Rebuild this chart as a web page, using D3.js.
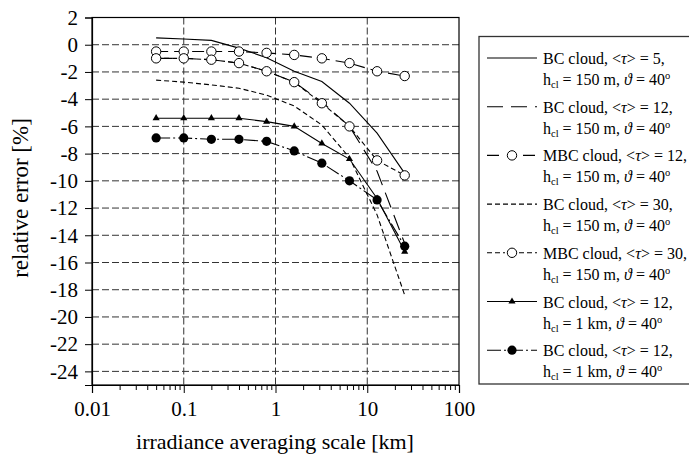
<!DOCTYPE html>
<html>
<head>
<meta charset="utf-8">
<script src="https://cdn.jsdelivr.net/npm/d3@7"></script>
<style>
  body { margin: 0; background: #fff; }
  svg { font-family: "Liberation Serif", "Times New Roman", serif; }
</style>
</head>
<body>
<div id="chart"></div>
<script>
// averaging scales (km) and relative errors (%)
const scales = [0.05, 0.1, 0.2, 0.4, 0.8, 1.6, 3.2, 6.4, 12.8, 25.6];
const bc5_150m   = [0.5, 0.42, 0.32, -0.25, -0.95, -1.95, -2.7, -4.3, -6.5, -9.45];
const bc12_150m  = [-1.0, -1.0, -1.1, -1.35, -1.95, -2.75, -4.2, -6.0, -9.3, -14.6];
const mbc12_150m = [-0.5, -0.5, -0.5, -0.5, -0.6, -0.75, -1.0, -1.35, -1.95, -2.3];
const bc30_150m  = [-2.6, -2.75, -2.95, -3.2, -3.7, -4.5, -5.9, -8.3, -12.5, -18.4];
const mbc30_150m = [-1.0, -1.0, -1.1, -1.35, -1.95, -2.75, -4.3, -6.0, -8.5, -9.6];
const bc12_1km_a = [-5.4, -5.4, -5.4, -5.4, -5.65, -6.0, -7.25, -8.4, -11.3, -15.2];
const bc12_1km_b = [-6.85, -6.85, -6.95, -6.95, -7.1, -7.8, -8.7, -10.0, -11.4, -14.8];

const yTicks = [2, 0, -2, -4, -6, -8, -10, -12, -14, -16, -18, -20, -22, -24];
const xTicks = [0.01, 0.1, 1, 10, 100];

const series = [
  {name: 'BC cloud, ', tau: '5', h: '150 m', values: bc5_150m, dash: null, marker: null},
  {name: 'BC cloud, ', tau: '12', h: '150 m', values: bc12_150m, dash: '16,8', marker: null},
  {name: 'MBC cloud, ', tau: '12', h: '150 m', values: mbc12_150m, dash: '12,6', marker: 'open'},
  {name: 'BC cloud, ', tau: '30', h: '150 m', values: bc30_150m, dash: '5,3', marker: null},
  {name: 'MBC cloud, ', tau: '30', h: '150 m', values: mbc30_150m, dash: '5,3', marker: 'open'},
  {name: 'BC cloud, ', tau: '12', h: '1 km', values: bc12_1km_a, dash: null, marker: 'triangle'},
  {name: 'BC cloud, ', tau: '12', h: '1 km', values: bc12_1km_b, dash: '14,3,2,3', marker: 'filled'}
];

let width = 689, height = 457;
let margin = {top: 17.5, bottom: 72, right: 230, left: 92};
const serif = '"Liberation Serif", "Times New Roman", serif';

let svg = d3.select('#chart')
            .append('svg')
            .attr('width', width)
            .attr('height', height)
            .style('background', '#fff');

let xScale = d3.scaleLog()
               .domain([0.01, 100])
               .range([margin.left, width - margin.right]);

let yScale = d3.scaleLinear()
               .domain([-25, 2])
               .range([height - margin.bottom, margin.top]);

// grid lines
svg.append('g')
   .selectAll('line')
   .data(yTicks.filter(d => d < 2))
   .enter()
   .append('line')
   .attr('x1', margin.left)
   .attr('x2', width - margin.right)
   .attr('y1', d => yScale(d))
   .attr('y2', d => yScale(d))
   .attr('stroke', '#333')
   .attr('stroke-width', 1)
   .attr('stroke-dasharray', '7,3');

svg.append('g')
   .selectAll('line')
   .data([0.1, 1, 10])
   .enter()
   .append('line')
   .attr('x1', d => xScale(d))
   .attr('x2', d => xScale(d))
   .attr('y1', margin.top)
   .attr('y2', height - margin.bottom)
   .attr('stroke', '#333')
   .attr('stroke-width', 1)
   .attr('stroke-dasharray', '7,3');

// frame
svg.append('rect')
   .attr('x', margin.left)
   .attr('y', margin.top)
   .attr('width', width - margin.right - margin.left)
   .attr('height', height - margin.bottom - margin.top)
   .attr('fill', 'none')
   .attr('stroke', '#000')
   .attr('stroke-width', 1.2);

// y axis
let yAxis = svg.append('g')
   .attr('transform', `translate(${margin.left},0)`)
   .call(d3.axisLeft(yScale).tickValues(yTicks).tickSize(7).tickPadding(7).tickFormat(d => String(d)));
yAxis.select('.domain').attr('stroke-width', 1.2);
yAxis.selectAll('text').style('font-size', '21px').attr('fill', '#000').attr('font-family', serif);

// x axis: minor ticks then labelled major ticks
let minor = [];
[0.01, 0.1, 1, 10].forEach(dec => {
  for (let k = 2; k <= 9; k++) minor.push(dec * k);
});
svg.append('g')
   .attr('transform', `translate(0,${height - margin.bottom})`)
   .call(d3.axisBottom(xScale).tickValues(minor).tickSize(5).tickFormat(''))
   .select('.domain').remove();

let xAxis = svg.append('g')
   .attr('transform', `translate(0,${height - margin.bottom})`)
   .call(d3.axisBottom(xScale).tickValues(xTicks).tickSize(8).tickPadding(8).tickFormat(d => String(d)));
xAxis.select('.domain').attr('stroke-width', 1.2);
xAxis.selectAll('text').style('font-size', '21px').attr('fill', '#000').attr('font-family', serif);

// axis titles
svg.append('text')
   .attr('x', 275)
   .attr('y', 449)
   .attr('text-anchor', 'middle')
   .style('font-size', '22px')
   .text('irradiance averaging scale [km]');

svg.append('text')
   .attr('transform', 'rotate(-90)')
   .attr('x', -198)
   .attr('y', 28)
   .attr('text-anchor', 'middle')
   .style('font-size', '23px')
   .text('relative error [%]');

// series lines
let line = d3.line()
             .x((d, i) => xScale(scales[i]))
             .y(d => yScale(d));

function drawMarker(g, kind, x, y) {
  if (kind === 'open') {
    g.append('circle').attr('cx', x).attr('cy', y).attr('r', 4.7)
     .attr('fill', '#fff').attr('stroke', '#000').attr('stroke-width', 1);
  } else if (kind === 'filled') {
    g.append('circle').attr('cx', x).attr('cy', y).attr('r', 4.6).attr('fill', '#000');
  } else if (kind === 'triangle') {
    g.append('path')
     .attr('d', d3.symbol().type(d3.symbolTriangle).size(22)())
     .attr('transform', `translate(${x},${y})`)
     .attr('fill', '#000');
  }
}

series.forEach(s => {
  svg.append('path')
     .datum(s.values)
     .attr('fill', 'none')
     .attr('stroke', '#000')
     .attr('stroke-width', 1.1)
     .attr('stroke-dasharray', s.dash)
     .attr('d', line);
});

series.forEach(s => {
  if (!s.marker) return;
  let g = svg.append('g');
  s.values.forEach((v, i) => drawMarker(g, s.marker, xScale(scales[i]), yScale(v)));
});

// legend
let legend = svg.append('g');
legend.append('rect')
      .attr('x', 479)
      .attr('y', 36.5)
      .attr('width', 240)
      .attr('height', 347.5)
      .attr('fill', '#fff')
      .attr('stroke', '#333')
      .attr('stroke-width', 1.3);

series.forEach((s, i) => {
  let cy = 58 + i * 48.7;
  legend.append('line')
        .attr('x1', 487).attr('x2', 537)
        .attr('y1', cy).attr('y2', cy)
        .attr('stroke', '#000')
        .attr('stroke-width', 1.1)
        .attr('stroke-dasharray', s.dash);
  if (s.marker) {
    legend.append('rect').attr('x', 505).attr('y', cy - 6).attr('width', 14).attr('height', 12)
          .attr('fill', s.marker === 'open' ? '#fff' : 'none');
    drawMarker(legend, s.marker, 512, cy);
  }

  let t1 = legend.append('text')
                 .attr('x', 543)
                 .attr('y', cy + 6)
                 .style('font-size', '16px');
  t1.append('tspan').text(s.name + '<');
  t1.append('tspan').style('font-style', 'italic').text('τ');
  t1.append('tspan').text('> = ' + s.tau + ',');

  let t2 = legend.append('text')
                 .attr('x', 543)
                 .attr('y', cy + 27)
                 .style('font-size', '16px');
  t2.append('tspan').text('h');
  t2.append('tspan').attr('dy', 3).style('font-size', '10.5px').text('cl');
  t2.append('tspan').attr('dy', -3).text(' = ' + s.h + ', ');
  t2.append('tspan').style('font-style', 'italic').text('ϑ');
  t2.append('tspan').text(' = 40');
  t2.append('tspan').attr('dy', -6).style('font-size', '10.5px').text('o');
});
</script>
</body>
</html>
